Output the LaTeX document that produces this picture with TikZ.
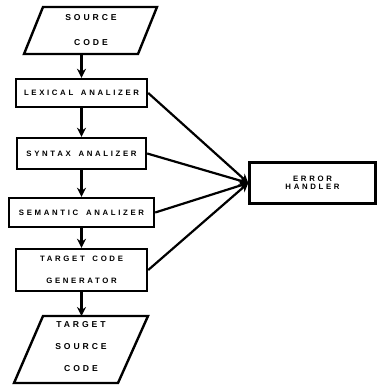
\documentclass[tikz,border=0pt]{standalone}
\usepackage{fontspec}
\setmainfont{Liberation Sans}[LetterSpace=34,WordSpace=1.6]
\usetikzlibrary{arrows.meta}
\begin{document}
\begin{tikzpicture}[x=1pt,y=-1pt,
  lbl/.style={font=\bfseries\fontsize{7.8}{9}\selectfont, align=center, inner sep=0pt},
  biglbl/.style={font=\bfseries\fontsize{8.6}{9}\selectfont, align=center, inner sep=0pt},
  proc/.style={draw, line width=2.4pt, rectangle, inner sep=0pt, lbl},
  io/.style={line width=2.4pt, line join=miter},
  ghost/.style={rectangle, inner sep=0pt, biglbl},
  flow/.style={line width=2.2pt, -{Stealth[length=9pt,width=9pt]}},
]
\useasboundingbox (0,0) rectangle (377,385);
% input parallelogram
\draw[io] (43,7) -- (157,7) -- (138,54) -- (24,54) -- cycle;
\node[ghost, minimum width=114pt, minimum height=47pt] (src) at (91,30) {SOURCE\\[16pt]CODE};
% process boxes
\node[proc, minimum width=131pt, minimum height=28pt] (lex) at (81.5,93) {LEXICAL ANALIZER};
\node[proc, minimum width=129pt, minimum height=31pt] (syn) at (81.5,153.5) {SYNTAX ANALIZER};
\node[proc, minimum width=145pt, minimum height=29pt] (sem) at (81.5,212.5) {SEMANTIC ANALIZER};
\node[proc, minimum width=131pt, minimum height=42pt] (gen) at (81.5,270) {TARGET CODE\\[13pt]GENERATOR};
% output parallelogram
\draw[io] (43,316) -- (148,316) -- (118,383) -- (14,383) -- cycle;
\node[ghost, minimum width=105pt, minimum height=67pt] (tsrc) at (81,347) {TARGET\\[13pt]SOURCE\\[13pt]CODE};
% error handler
\node[proc, minimum width=126pt, minimum height=41pt] (err) at (312.5,183) {ERROR\\[-1pt]HANDLER};
% main flow
\draw[flow] (lex.north |- src.south) -- (lex.north);
\draw[flow] (lex) -- (syn);
\draw[flow] (syn) -- (sem);
\draw[flow] (sem) -- (gen);
\draw[flow] (gen.south) -- (gen.south |- 0,316);
% to error handler
\draw[flow] (lex.east) -- (err.west);
\draw[flow] (syn.east) -- (err.west);
\draw[flow] (sem.east) -- (err.west);
\draw[flow] (gen.east) -- (err.west);
\end{tikzpicture}
\end{document}
